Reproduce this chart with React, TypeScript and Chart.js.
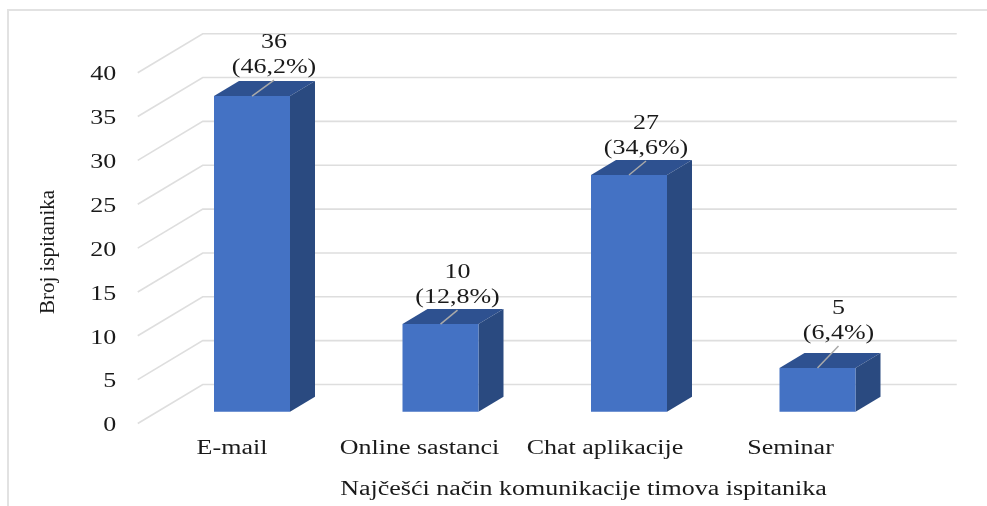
import React, { useEffect, useRef } from "react";
import { Chart, registerables } from "chart.js";

Chart.register(...registerables);

const categories = ["E-mail", "Online sastanci", "Chat aplikacije", "Seminar"];
const respondents = [36, 10, 27, 5];
const shares = ["(46,2%)", "(12,8%)", "(34,6%)", "(6,4%)"];
const yTitle = "Broj ispitanika";
const xTitle = "Najčešći način komunikacije timova ispitanika";

// Label placement relative to each bar's top-front centre
const labelDx = [22, 17, 17, 21];
const labelDy = [-55, -53, -53, -61];
const tickNudge = [-20, -21, -24, -27];

const FONT = "'Liberation Serif', 'Times New Roman', serif";
const TEXT = "#1a1a1a";
const STRETCH = 1.3;
const WALL_DX = 65;
const WALL_DY = -39;
const BAR_DX = 25;
const BAR_DY = -15;

const scene = {
  id: "scene",
  afterUpdate(chart: any) {
    const items = chart.scales.x.getLabelItems(chart.chartArea);
    items.forEach((it: any, i: number) => {
      it.options.translation[0] += tickNudge[i] ?? 0;
    });
  },
  beforeDraw(chart: any) {
    const { ctx, width, height } = chart;
    ctx.save();
    ctx.fillStyle = "#ffffff";
    ctx.fillRect(0, 0, width, height);
    ctx.strokeStyle = "#e2e2e2";
    ctx.lineWidth = 2;
    ctx.beginPath();
    ctx.moveTo(8, height);
    ctx.lineTo(8, 10);
    ctx.lineTo(width, 10);
    ctx.stroke();
    ctx.restore();
  },
  beforeDatasetsDraw(chart: any) {
    const { ctx, chartArea } = chart;
    const y = chart.scales.y;
    ctx.save();
    ctx.strokeStyle = "#dedede";
    ctx.lineWidth = 1.6;
    y.ticks.forEach((t: any) => {
      const py = y.getPixelForValue(t.value);
      ctx.beginPath();
      ctx.moveTo(chartArea.left - 20, py);
      ctx.lineTo(chartArea.left - 20 + WALL_DX, py + WALL_DY);
      ctx.lineTo(chartArea.right + 45, py + WALL_DY);
      ctx.stroke();
    });
    ctx.restore();

    // depth faces of the bars
    const bars = chart.getDatasetMeta(0).data;
    ctx.save();
    bars.forEach((b: any) => {
      const l = b.x - b.width / 2;
      const r = b.x + b.width / 2;
      ctx.fillStyle = "#2e5190";
      ctx.beginPath();
      ctx.moveTo(l, b.y);
      ctx.lineTo(l + BAR_DX, b.y + BAR_DY);
      ctx.lineTo(r + BAR_DX, b.y + BAR_DY);
      ctx.lineTo(r, b.y);
      ctx.closePath();
      ctx.fill();
      ctx.fillStyle = "#2a4a80";
      ctx.beginPath();
      ctx.moveTo(r, b.y);
      ctx.lineTo(r + BAR_DX, b.y + BAR_DY);
      ctx.lineTo(r + BAR_DX, b.base + BAR_DY);
      ctx.lineTo(r, b.base);
      ctx.closePath();
      ctx.fill();
    });
    ctx.restore();
  },
  afterDatasetsDraw(chart: any) {
    const { ctx } = chart;
    const bars = chart.getDatasetMeta(0).data;
    ctx.save();
    ctx.font = `20px ${FONT}`;
    ctx.textAlign = "center";
    ctx.textBaseline = "middle";
    bars.forEach((b: any, i: number) => {
      const cx = b.x + labelDx[i];
      const cy = b.y + labelDy[i];
      ctx.strokeStyle = "#a9a9a9";
      ctx.lineWidth = 1.5;
      ctx.beginPath();
      ctx.moveTo(b.x, b.y);
      ctx.lineTo(cx, cy + 39);
      ctx.stroke();
      ctx.fillStyle = TEXT;
      ctx.fillText(String(respondents[i]), cx, cy + 2);
      ctx.fillText(shares[i], cx, cy + 27);
    });
    ctx.fillText(xTitle, 583.5, 490);
    ctx.translate(48, 252);
    ctx.rotate(-Math.PI / 2);
    ctx.font = `21px ${FONT}`;
    ctx.fillText(yTitle, 0, 0);
    ctx.restore();
  },
};

export default function App() {
  const ref = useRef<HTMLCanvasElement>(null);
  useEffect(() => {
    const canvas = ref.current as HTMLCanvasElement;
    const ctx = canvas.getContext("2d") as any;
    const proto = CanvasRenderingContext2D.prototype.fillText;
    // The source picture is a horizontally stretched screenshot: widen level text about its anchor.
    ctx.fillText = function (text: string, x: number, y: number) {
      const m = ctx.getTransform();
      if (Math.abs(m.b) > 1e-6) {
        proto.call(ctx, text, x, y);
        return;
      }
      ctx.save();
      ctx.translate(x, y);
      ctx.scale(STRETCH, 1);
      proto.call(ctx, text, 0, 0);
      ctx.restore();
    };
    const chart = new Chart(canvas, {
      type: "bar",
      data: {
        labels: categories,
        datasets: [
          {
            data: respondents,
            yAxisID: "yBar",
            backgroundColor: "#4472c4",
            barPercentage: 76 / 188.5,
            categoryPercentage: 1,
            clip: false,
          } as any,
        ],
      },
      options: {
        animation: false,
        responsive: false,
        devicePixelRatio: 1,
        layout: { padding: { top: 72.7, left: 0, right: 75.25, bottom: 0 } },
        plugins: { legend: { display: false }, tooltip: { enabled: false }, title: { display: false } },
        scales: {
          x: {
            grid: { display: false, drawTicks: false },
            border: { display: false },
            ticks: { autoSkip: false, maxRotation: 0, minRotation: 0, padding: 13, color: TEXT, font: { family: FONT, size: 20 } },
            afterFit(s: any) {
              s.height = 82.5;
            },
          },
          y: {
            min: 0,
            max: 40,
            position: "left",
            grid: { display: false, drawTicks: false },
            border: { display: false },
            ticks: { stepSize: 5, padding: 41.5, labelOffset: 2.5, color: TEXT, font: { family: FONT, size: 20 } },
            afterFit(s: any) {
              s.width = 157.75;
            },
          },
          yBar: { display: false, min: -1.333, max: 38.667 },
        },
      } as any,
      plugins: [scene],
    });
    return () => {
      chart.destroy();
      delete ctx.fillText;
    };
  }, []);
  return (
    <div style={{ position: "absolute", left: 0, top: 0, width: 987, height: 506, overflow: "hidden" }}>
      <canvas ref={ref} width={987} height={506} style={{ display: "block" }} />
    </div>
  );
}
